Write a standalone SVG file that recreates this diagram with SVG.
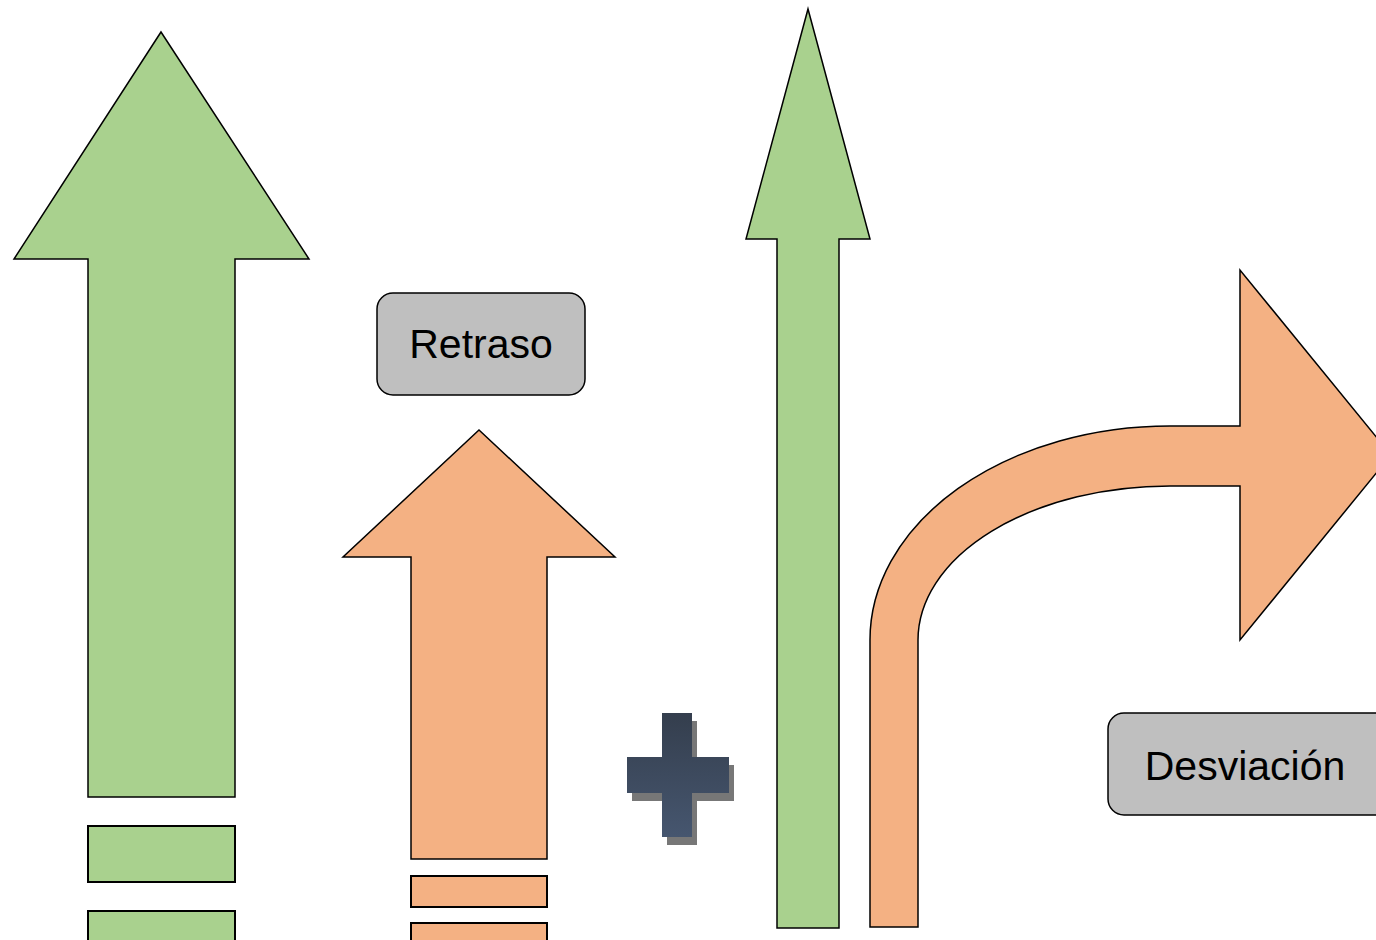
<svg xmlns="http://www.w3.org/2000/svg" width="1376" height="940" viewBox="0 0 1376 940">
<style>
.g{fill:#a9d18e;stroke:#000;stroke-width:1.5}
.o{fill:#f4b183;stroke:#000;stroke-width:1.5}
.box{fill:#bfbfbf;stroke:#000;stroke-width:1.5}
.lbl{font-family:"Liberation Sans",Arial,sans-serif;font-size:41px;fill:#000;text-anchor:middle}
.bar{stroke-width:2}
</style>
<defs>
<linearGradient id="plusGrad" x1="0" y1="0" x2="0" y2="1">
<stop offset="0" stop-color="#343e4d"/>
<stop offset="1" stop-color="#46566f"/>
</linearGradient>
</defs>
<rect width="1376" height="940" fill="#fff"/>
<g id="big-green-arrow">
<path class="g" d="M161 32 L309 259 L235 259 L235 797 L88 797 L88 259 L14 259 Z"/>
<rect class="g bar" x="88" y="826" width="147" height="56"/>
<rect class="g bar" x="88" y="911" width="147" height="40"/>
</g>
<g id="orange-arrow">
<path class="o" d="M479 430 L615 557 L547 557 L547 859 L411 859 L411 557 L343 557 Z"/>
<rect class="o bar" x="411" y="876" width="136" height="31"/>
<rect class="o bar" x="411" y="923" width="136" height="30"/>
</g>
<g id="retraso">
<rect class="box" x="377" y="293" width="208" height="102" rx="16"/>
<text class="lbl" x="481" y="358">Retraso</text>
</g>
<g id="plus">
<path fill="#777" d="M667 721 H697 V765 H734 V801 H697 V845 H667 V801 H632 V765 H667 Z"/>
<path fill="url(#plusGrad)" d="M662 713 H692 V757 H729 V793 H692 V837 H662 V793 H627 V757 H662 Z"/>
</g>
<g id="tall-green-arrow">
<path class="g" d="M808 9 L870 239 L839 239 L839 928 L777 928 L777 239 L746 239 Z"/>
</g>
<g id="curved-orange-arrow">
<path class="o" d="M870 927 L870 640 A300 214 0 0 1 1170 426 L1240 426 L1240 270 L1391 455 L1240 640 L1240 486 L1170 486 A252 154 0 0 0 918 640 L918 927 Z"/>
</g>
<g id="desviacion">
<rect class="box" x="1108" y="713" width="290" height="102" rx="16"/>
<text class="lbl" x="1245" y="780">Desviación</text>
</g>
<g id="connectors"></g>
</svg>
